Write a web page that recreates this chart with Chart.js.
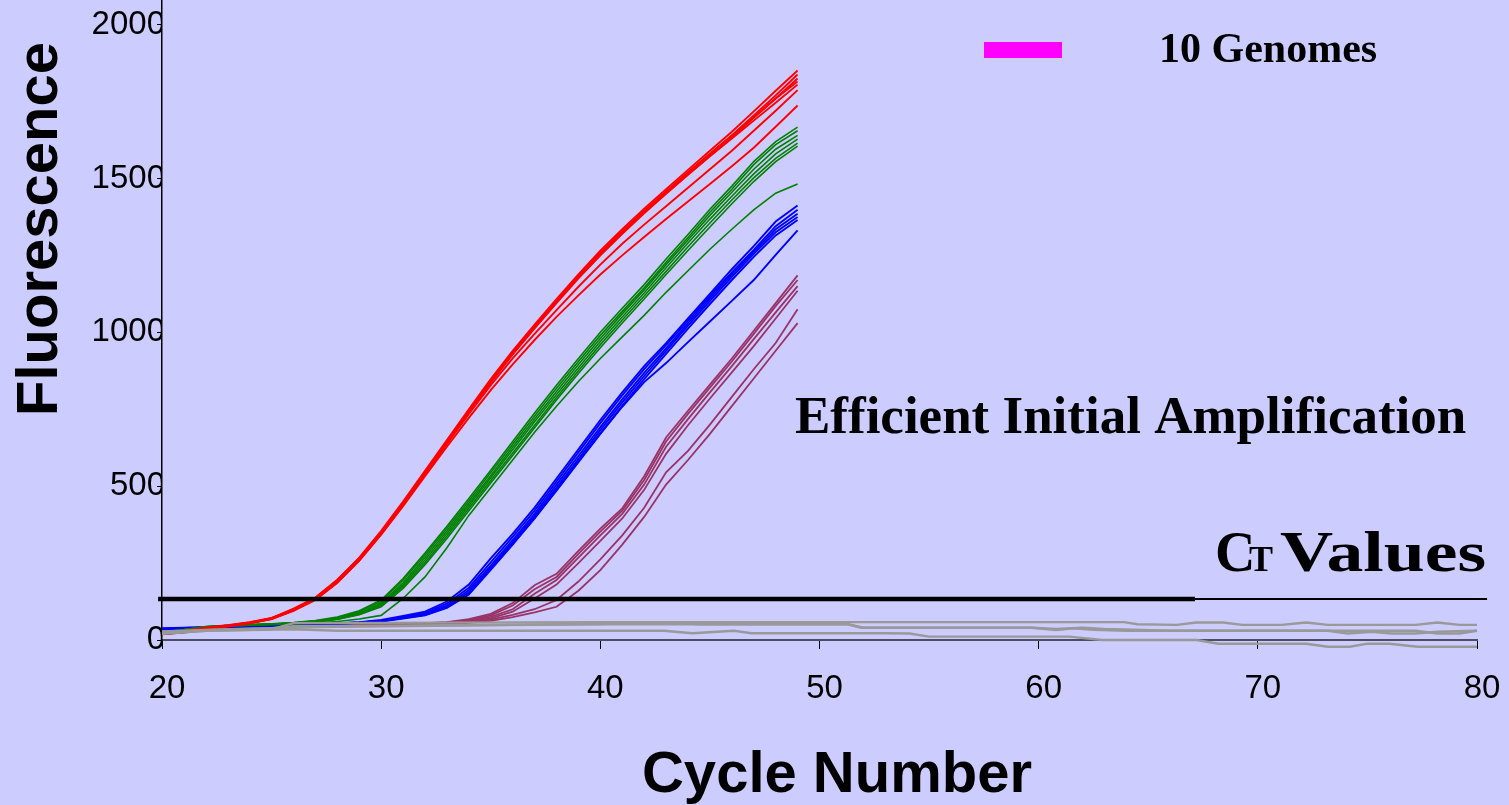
<!DOCTYPE html>
<html><head><meta charset="utf-8">
<script src="https://cdn.jsdelivr.net/npm/chart.js@4/dist/chart.umd.min.js"></script>
<style>
html,body{margin:0;padding:0;background:#CCCCFF;overflow:hidden}
canvas{display:block}
</style></head>
<body>
<canvas id="c" width="1509" height="805"></canvas>
<script>
// ---------- data ----------
const cycles = [20,21,22,23,24,25,26,27,28,29,30,31,32,33,34,35,36,37,38,39,40,41,42,43,44,45,46,47,48,49];

const red1 = [22,28,38,46,56,70,100,137,195,268,355,450,550,650,750,848,940,1025,1108,1188,1265,1335,1402,1465,1528,1590,1652,1718,1785,1851];
const red2 = [24,30,40,48,58,72,98,133,190,262,348,442,542,642,742,840,932,1018,1100,1180,1255,1325,1392,1455,1518,1580,1640,1705,1770,1838];
const red3 = [20,26,36,44,54,68,95,130,186,258,344,438,538,638,738,836,928,1013,1095,1175,1250,1320,1387,1450,1512,1573,1633,1697,1760,1825];
const red4 = [23,29,39,47,57,71,102,138,196,266,350,444,544,645,745,842,935,1020,1102,1182,1258,1328,1395,1458,1520,1580,1640,1700,1760,1815];
const red5 = [21,27,37,45,55,69,97,132,188,260,346,440,540,640,740,838,930,1015,1098,1178,1252,1322,1390,1452,1513,1572,1630,1688,1746,1805];
const red6 = [22,28,38,46,56,70,99,134,190,262,348,442,540,638,735,828,915,995,1072,1148,1220,1288,1350,1410,1470,1530,1590,1655,1720,1787];
const red7 = [20,26,36,45,55,68,96,131,187,258,342,435,532,628,722,812,896,975,1050,1120,1188,1250,1310,1368,1425,1482,1540,1600,1668,1737];

const green1 = [26,34,44,48,50,53,57,63,75,95,130,200,283,370,460,552,645,738,828,915,1000,1078,1155,1238,1318,1400,1475,1555,1620,1667];
const green2 = [25,33,43,47,49,52,56,62,73,92,126,194,276,362,452,544,636,728,818,905,990,1068,1145,1228,1308,1390,1465,1545,1610,1655];
const green3 = [24,32,42,46,48,51,55,60,70,88,120,186,268,354,444,535,627,718,808,895,980,1060,1138,1220,1300,1380,1455,1530,1595,1640];
const green4 = [25,33,43,47,49,52,55,60,69,86,116,180,260,346,436,527,618,709,798,885,970,1050,1128,1210,1290,1368,1442,1515,1580,1628];
const green5 = [24,32,42,46,48,51,54,59,68,84,112,174,252,338,428,518,608,698,788,875,960,1040,1118,1198,1278,1355,1430,1502,1565,1615];
const green6 = [25,33,43,47,49,51,54,58,67,82,108,168,245,330,420,510,600,690,780,866,950,1030,1108,1188,1266,1342,1418,1490,1555,1605];
const green7 = [25,33,42,46,48,50,52,55,60,68,80,135,205,300,405,495,585,675,760,840,915,985,1055,1130,1200,1270,1335,1398,1452,1482];

const blue1 = [38,40,42,44,46,48,50,52,55,58,65,78,92,125,180,265,345,430,525,620,715,805,890,965,1045,1125,1205,1280,1360,1412];
const blue2 = [36,39,41,43,45,47,49,51,54,57,63,75,88,118,170,252,335,420,515,610,705,795,880,958,1038,1118,1195,1268,1345,1398];
const blue3 = [35,38,40,42,44,46,48,50,53,56,62,73,85,112,162,242,325,410,505,598,692,782,868,948,1030,1110,1188,1262,1335,1385];
const blue4 = [37,39,41,43,45,47,49,51,54,57,62,72,82,108,155,235,318,402,495,588,682,772,858,940,1022,1102,1180,1255,1325,1375];
const blue5 = [34,37,39,41,43,45,47,49,52,55,60,70,80,104,148,228,310,395,488,580,672,762,848,930,1012,1092,1170,1245,1315,1365];
const blue6 = [35,38,40,42,44,46,48,50,53,56,61,71,82,106,150,232,312,396,485,578,670,758,838,900,968,1035,1102,1170,1252,1331];

const purple1 = [22,28,36,40,42,43,44,45,46,48,50,52,55,58,68,85,120,178,215,290,362,428,532,658,745,830,915,1005,1095,1185];
const purple2 = [20,26,34,38,41,42,43,44,46,47,49,51,54,57,65,80,112,165,205,280,352,420,520,645,735,820,905,995,1085,1170];
const purple3 = [21,27,35,39,41,42,43,45,46,48,50,52,54,56,62,75,100,150,195,268,340,410,505,628,718,805,890,978,1065,1150];
const purple4 = [19,25,33,37,40,41,42,44,45,47,49,51,53,55,60,70,92,135,180,250,322,395,488,605,698,785,870,955,1045,1135];
const purple5 = [20,26,34,38,40,41,42,43,45,46,48,50,52,54,58,66,82,100,130,190,262,340,430,545,615,700,790,880,965,1075];
const purple6 = [18,24,32,36,39,40,41,42,44,45,47,49,51,53,56,62,74,90,108,160,227,310,400,505,585,670,760,850,940,1030];

// no-template controls (grey), irregular cycle positions
const grey1X = [20,22,25,26,40,63.9,64.5,66.3,67.2,68.4,69.3,71.1,72.2,73.2,77.2,78.2,79.2,80];
const grey1Y = [22,30,35,55,58,58,51,49,57,57,49,49,57,49,49,57,49,49];
const grey2X = [20,22,25,26,40,51.3,51.9,59.7,60.8,61.6,62.5,64,66,73.2,74.1,75.2,76.1,77.2,78.2,80];
const grey2Y = [25,32,38,45,51,51,40,40,32,38,33,30,30,30,21,27,21,21,27,30];
const grey3X = [20,22,26,28,40,42.9,44.2,46.1,46.9,52.9,54.1,55,61.4,62.9,67.2,68.2,72.2,73.2,74.2,75,76,77.3,80];
const grey3Y = [20,30,35,30,30,30,22,30,22,22,21,11,11,0,0,-12,-12,-22,-22,-12,-12,-22,-22];
const grey4X = [20,23,27,40,43,44.5,51.3,52,59.7,60.8,62,63,66,77.2,78.2,79.2,80];
const grey4Y = [28,35,42,52,58,51,51,40,40,36,40,36,30,30,21,21,30];

const thresholdValue = 133;
const thresholdThickX = [19.82, 67.13];
const thresholdThinX = [67.13, 80.46];

const xTicks = [20,30,40,50,60,70,80];
const yTicks = [0,500,1000,1500,2000];

const xTitle = 'Cycle Number';
const yTitle = 'Fluorescence';
const legendLabel = '10 Genomes';
const noteText = 'Efficient Initial Amplification';

// ---------- build ----------
const toPts = (xs, ys) => xs.map((x, i) => ({x, y: ys[i]}));
const groups = [
  {series:[red1,red2,red3,red4,red5,red6,red7], color:'#FF0000', w:1.9},
  {series:[green1,green2,green3,green4,green5,green6,green7], color:'#008000', w:1.6},
  {series:[blue1,blue2,blue3,blue4,blue5,blue6], color:'#0000FF', w:1.9},
  {series:[purple1,purple2,purple3,purple4,purple5,purple6], color:'#993366', w:1.8}
];
const greys = [[grey1X,grey1Y],[grey2X,grey2Y],[grey3X,grey3Y],[grey4X,grey4Y]];

const datasets = [];
datasets.push({data: toPts(thresholdThickX, [thresholdValue, thresholdValue]), borderColor:'#000', borderWidth:4.5, clip:false});
datasets.push({data: toPts(thresholdThinX, [thresholdValue, thresholdValue]), borderColor:'#000', borderWidth:2, clip:false});
greys.forEach(([xs, ys]) => datasets.push({data: toPts(xs, ys), borderColor:'#999999', borderWidth:2.4, clip:false}));
groups.forEach(g => g.series.forEach(s => datasets.push({data: toPts(cycles, s), borderColor:g.color, borderWidth:g.w})));
datasets.forEach(d => { d.pointRadius = 0; d.tension = 0; d.fill = false; });

const textPlugin = {
  id: 'texts',
  beforeDraw(chart) {
    const ctx = chart.ctx;
    ctx.save();
    ctx.fillStyle = '#CCCCFF';
    ctx.fillRect(0, 0, chart.width, chart.height);
    ctx.restore();
  },
  afterDraw(chart) {
    const ctx = chart.ctx;
    ctx.save();
    ctx.fillStyle = '#000';
    ctx.textBaseline = 'alphabetic';
    // axis titles
    ctx.font = 'bold 58px "Liberation Sans", Arial, sans-serif';
    ctx.textAlign = 'center';
    ctx.fillText(xTitle, 837, 792);
    ctx.save();
    ctx.translate(57, 229);
    ctx.rotate(-Math.PI / 2);
    ctx.fillText(yTitle, 0, 0);
    ctx.restore();
    // annotation
    ctx.textAlign = 'left';
    ctx.font = 'bold 53px "Liberation Serif", "Times New Roman", serif';
    ctx.fillText(noteText, 795, 433);
    // C_T Values
    ctx.font = 'bold 56px "Liberation Serif", serif';
    ctx.fillText('C', 1215, 571);
    ctx.font = 'bold 36px "Liberation Serif", serif';
    ctx.fillText('T', 1249, 571);
    ctx.save();
    ctx.translate(1280, 571);
    ctx.scale(1.27, 1);
    ctx.font = 'bold 58px "Liberation Serif", serif';
    ctx.fillText('Values', 0, 0);
    ctx.restore();
    // legend
    ctx.fillStyle = '#FF00FF';
    ctx.fillRect(984, 42, 78, 16);
    ctx.fillStyle = '#000';
    ctx.font = 'bold 42px "Liberation Serif", serif';
    ctx.fillText(legendLabel, 1159, 62);
    ctx.restore();
  }
};

new Chart(document.getElementById('c'), {
  type: 'line',
  data: {datasets},
  plugins: [textPlugin],
  options: {
    responsive: false,
    animation: false,
    devicePixelRatio: 1,
    layout: {padding: {left: 0, right: 32, top: 0, bottom: 0}},
    plugins: {legend: {display: false}, tooltip: {enabled: false}},
    scales: {
      x: {
        type: 'linear', min: 20, max: 80,
        afterBuildTicks: s => { s.ticks = xTicks.map(v => ({value: v})); },
        afterFit: s => { s.height = 165; s.paddingLeft = 0; s.paddingRight = 0; },
        ticks: {font: {family: '"Liberation Sans", Arial, sans-serif', size: 33}, color: '#000', padding: 20, maxRotation: 0, labelOffset: 5, callback: v => String(v)},
        grid: {drawOnChartArea: false, drawTicks: true, tickLength: 9, color: '#000', lineWidth: 1},
        border: {color: '#4d4d66', width: 2}
      },
      y: {
        type: 'linear', min: 0, max: 2080,
        afterBuildTicks: s => { s.ticks = yTicks.map(v => ({value: v})); },
        afterFit: s => { s.width = 162; s.paddingTop = 0; s.paddingBottom = 0; },
        ticks: {font: {family: '"Liberation Sans", Arial, sans-serif', size: 33}, color: '#000', padding: -8, callback: v => String(v)},
        grid: {drawOnChartArea: false, drawTicks: true, tickLength: 5, color: '#000', lineWidth: 1},
        border: {color: '#000', width: 1.5}
      }
    }
  }
});
</script>
</body></html>
